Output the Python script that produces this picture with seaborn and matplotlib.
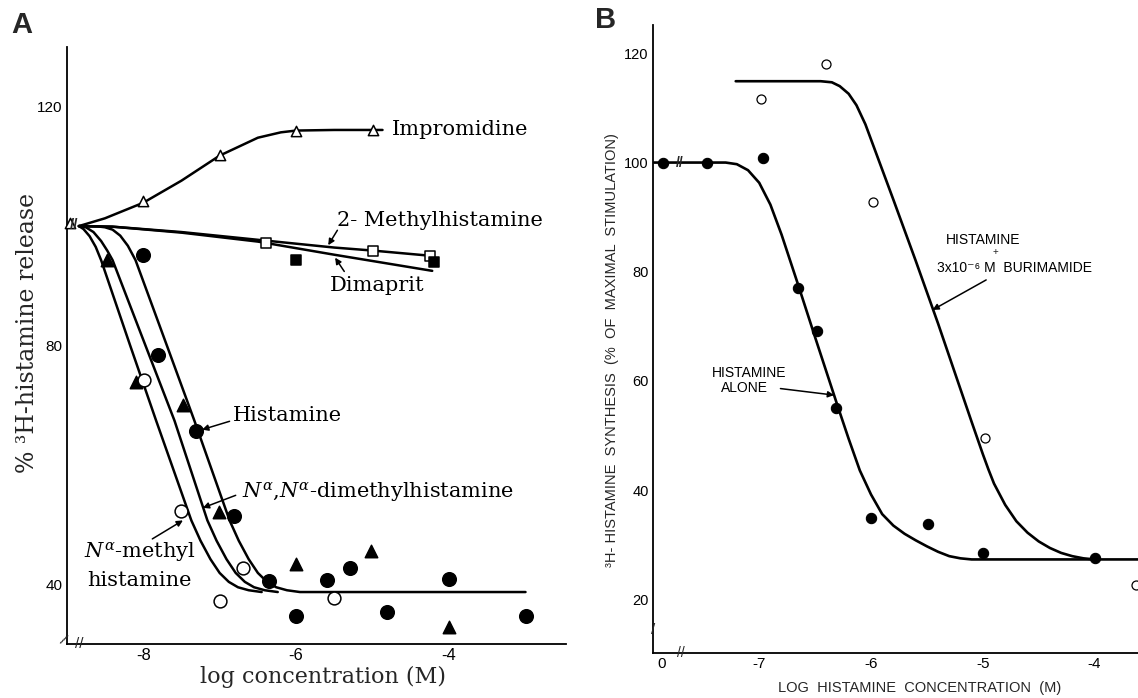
import matplotlib
matplotlib.use("Agg")
import matplotlib.pyplot as plt
import pandas as pd
import seaborn as sns

sns.set_theme(style="white")
plt.rcParams['font.family'] = ['DejaVu Serif']
plt.rcParams['mathtext.fontset'] = 'dejavuserif'

SANS = ['Liberation Sans', 'DejaVu Sans']
SERIF = ['DejaVu Serif', 'DejaVu Sans']

# ---------------- Panel A : measured points ----------------
a_impromidine_x = [-8.96, -8.0, -7.0, -6.0, -5.0]
a_impromidine_y = [100.5, 104.2, 111.9, 115.9, 116.1]
a_methyl2_x = [-6.4, -5.0, -4.25]
a_methyl2_y = [97.2, 95.9, 95.0]
a_dimaprit_x = [-6.0, -4.2]
a_dimaprit_y = [94.3, 94.0]
a_histamine_x = [-8.0, -7.8, -7.31, -6.81, -6.35, -6.0, -5.59, -5.29, -4.81, -4.0, -3.0]
a_histamine_y = [95.1, 78.4, 65.7, 51.5, 40.6, 34.7, 40.7, 42.8, 35.3, 40.8, 34.7]
a_dimethyl_x = [-8.47, -8.1, -7.48, -7.01, -6.0, -5.02, -4.0]
a_dimethyl_y = [94.3, 73.9, 70.0, 52.1, 43.4, 45.6, 32.9]
a_nmethyl_x = [-7.99, -7.51, -6.99, -6.69, -5.5]
a_nmethyl_y = [74.2, 52.3, 37.2, 42.8, 37.7]

# ---------------- Panel A : drawn curves ----------------
a_impro_curve_x = [-8.84, -8.5, -8.0, -7.5, -7.0, -6.5, -6.2, -6.0, -5.5, -5.0, -4.87]
a_impro_curve_y = [100.0, 101.3, 103.9, 107.6, 111.8, 114.8, 115.7, 116.0, 116.1, 116.1, 116.1]
a_methyl2_curve_x = [-8.84, -8.4, -7.5, -6.5, -5.5, -5.0, -4.22]
a_methyl2_curve_y = [100.0, 99.9, 99.0, 97.7, 96.4, 95.9, 95.0]
a_dimaprit_curve_x = [-8.84, -8.4, -7.5, -6.5, -5.5, -4.22]
a_dimaprit_curve_y = [100.0, 99.9, 98.9, 97.4, 95.2, 92.5]
a_curveL_x = [-8.84, -8.78, -8.70, -8.62, -8.55, -8.17, -7.83, -7.37, -7.25, -7.12,
              -7.0, -6.88, -6.76, -6.62, -6.45]
a_curveL_y = [100.0, 99.5, 98.3, 96.5, 94.3, 80.0, 67.4, 50.7, 47.3, 44.2,
              41.9, 40.4, 39.5, 39.0, 38.7]
a_curveM_x = [-8.84, -8.75, -8.65, -8.55, -8.47, -8.40, -7.97, -7.59, -7.16, -7.04,
              -6.91, -6.79, -6.67, -6.55, -6.41, -6.24]
a_curveM_y = [100.0, 99.8, 99.0, 97.5, 95.9, 94.3, 80.0, 67.4, 50.7, 47.3,
              44.2, 41.9, 40.4, 39.5, 39.0, 38.7]
a_curveR_x = [-8.84, -8.6, -8.5, -8.4, -8.3, -8.2, -8.10, -7.69, -7.33, -6.87, -6.75,
              -6.62, -6.5, -6.38, -6.26, -6.12, -5.95, -3.0]
a_curveR_y = [100.0, 99.95, 99.8, 99.4, 98.4, 96.7, 94.3, 80.0, 67.4, 50.7, 47.3,
              44.2, 41.9, 40.4, 39.5, 39.0, 38.7, 38.7]

a_yticks = [120, 100, 80, 60, 40]
a_yticklabels = ['120', '', '80', '', '40']
a_xticks = [-8, -7, -6, -5, -4, -3]
a_xticklabels = ['-8', '', '-6', '', '-4', '']

# ---------------- Panel B ----------------
b_alone_x = [-7.86, -7.47, -6.97, -6.65, -6.48, -6.31, -6.0, -5.49, -5.0, -4.0]
b_alone_y = [100.0, 100.0, 100.8, 77.0, 69.1, 55.0, 34.8, 33.8, 28.5, 27.5]
b_burim_x = [-6.98, -6.40, -5.98, -4.98, -3.63]
b_burim_y = [111.6, 118.0, 92.7, 49.6, 22.7]

b_alone_curve_x = [-7.94, -7.3, -7.2, -7.1, -7.0, -6.9, -6.8, -6.65, -6.5, -6.3, -6.2,
                   -6.1, -6.0, -5.9, -5.8, -5.7, -5.6, -5.5, -5.4, -5.3, -5.2, -5.1, -3.6]
b_alone_curve_y = [100.0, 100.0, 99.7, 98.6, 96.3, 92.3, 86.8, 77.5, 68.0, 55.5, 49.4,
                   43.6, 39.2, 35.6, 33.5, 32.0, 30.8, 29.7, 28.7, 27.9, 27.5, 27.3, 27.3]
b_burim_curve_x = [-7.21, -6.45, -6.35, -6.28, -6.2, -6.13, -6.05, -5.8, -5.6, -5.4,
                   -5.2, -5.1, -5.0, -4.95, -4.9, -4.8, -4.7, -4.6, -4.5, -4.4, -4.3,
                   -4.2, -4.1, -4.0]
b_burim_curve_y = [114.9, 114.9, 114.7, 114.0, 112.6, 110.5, 107.0, 93.2, 82.0, 70.5,
                   58.5, 52.5, 46.6, 43.8, 41.2, 37.3, 34.3, 32.2, 30.6, 29.4, 28.5,
                   27.9, 27.5, 27.3]

b_yticks = [120, 100, 80, 60, 40, 20]
b_yticklabels = ['120', '100', '80', '60', '40', '20']
b_xticks = [-7.87, -7, -6, -5, -4]
b_xticklabels = ['0', '-7', '-6', '-5', '-4']


def curve(ax, xs, ys, lw=1.8):
    df = pd.DataFrame({'x': xs, 'y': ys})
    sns.lineplot(data=df, x='x', y='y', ax=ax, sort=False, estimator=None,
                 color='black', lw=lw, zorder=2)


def pts(ax, xs, ys, marker, s, face, lw=1.1):
    df = pd.DataFrame({'x': xs, 'y': ys})
    sns.scatterplot(data=df, x='x', y='y', ax=ax, marker=marker, s=s,
                    color=face, edgecolor='black', linewidth=lw, zorder=3,
                    clip_on=False)


def arrow(ax, tip, tail, lw=1.1):
    ax.annotate('', xy=tip, xytext=tail,
                arrowprops=dict(arrowstyle='-|>', color='black', lw=lw,
                                mutation_scale=9, shrinkA=0, shrinkB=0))


fig = plt.figure(figsize=(11.38, 6.98), dpi=100)

# ================= Panel A =================
axA = fig.add_axes([0.0586, 0.0774, 0.4388, 0.8553])
curve(axA, a_impro_curve_x, a_impro_curve_y)
curve(axA, a_methyl2_curve_x, a_methyl2_curve_y)
curve(axA, a_dimaprit_curve_x, a_dimaprit_curve_y)
curve(axA, a_curveL_x, a_curveL_y)
curve(axA, a_curveM_x, a_curveM_y)
curve(axA, a_curveR_x, a_curveR_y)

pts(axA, a_impromidine_x, a_impromidine_y, '^', 55, 'white')
pts(axA, a_methyl2_x, a_methyl2_y, 's', 60, 'white')
pts(axA, a_dimaprit_x, a_dimaprit_y, 's', 50, 'black')
pts(axA, a_histamine_x, a_histamine_y, 'o', 95, 'black')
pts(axA, a_dimethyl_x, a_dimethyl_y, '^', 80, 'black')
pts(axA, a_nmethyl_x, a_nmethyl_y, 'o', 85, 'white')

axA.set_xlim(-9.0, -2.47)
axA.set_ylim(30, 130)
axA.set_xlabel('')
axA.set_ylabel('')
axA.set_yticks(a_yticks)
axA.set_yticklabels(a_yticklabels, family=SANS, fontsize=11)
axA.set_xticks(a_xticks)
axA.set_xticklabels(a_xticklabels, family=SANS, fontsize=12)
axA.tick_params(direction='in', length=6, width=1.1, pad=3, colors='black')
for sp in ['top', 'right']:
    axA.spines[sp].set_visible(False)
for sp in ['left', 'bottom']:
    axA.spines[sp].set_color('black')
    axA.spines[sp].set_linewidth(1.3)

tA = dict(family=SERIF, fontsize=15, color='black')
axA.text(-4.75, 116.1, 'Impromidine', ha='left', va='center', **tA)
axA.text(-5.47, 100.9, '2- Methylhistamine', ha='left', va='center', **tA)
arrow(axA, (-5.58, 96.8), (-5.46, 99.3))
axA.text(-5.56, 90.1, 'Dimaprit', ha='left', va='center', **tA)
arrow(axA, (-5.49, 94.7), (-5.37, 92.4))
axA.text(-6.83, 68.3, 'Histamine', ha='left', va='center', **tA)
arrow(axA, (-7.23, 65.9), (-6.87, 67.3))
axA.text(-6.71, 55.4, r'$N^{\alpha}$,$N^{\alpha}$-dimethylhistamine',
         ha='left', va='center', **tA)
arrow(axA, (-7.22, 52.8), (-6.79, 54.9))
axA.text(-8.05, 45.4, r'$N^{\alpha}$-methyl', ha='center', va='center', **tA)
axA.text(-8.05, 40.7, 'histamine', ha='center', va='center', **tA)
arrow(axA, (-7.48, 50.7), (-7.88, 47.6))

# break marks
axA.text(-8.9, 100.2, '//', ha='center', va='center', fontsize=11,
         family=SANS, fontweight='bold')
axA.text(-8.83, 30.0, '//', ha='center', va='center', fontsize=11,
         family=SANS, clip_on=False)
axA.text(-9.05, 30.6, '/', ha='center', va='center', fontsize=11,
         family=SANS, clip_on=False, rotation=-30)

fig.text(0.2838, 0.0300, 'log concentration (M)', ha='center', va='center',
         family=SERIF, fontsize=16)
fig.text(0.0246, 0.523, '% ³H-histamine release', ha='center', va='center',
         rotation=90, family=SERIF, fontsize=17)
fig.text(0.0193, 0.964, 'A', ha='center', va='center', family=SANS,
         fontsize=21, fontweight='bold')

# ================= Panel B =================
axB = fig.add_axes([0.5738, 0.0640, 0.4262, 0.9002])
curve(axB, b_alone_curve_x, b_alone_curve_y, lw=1.9)
curve(axB, b_burim_curve_x, b_burim_curve_y, lw=1.9)
pts(axB, b_alone_x, b_alone_y, 'o', 55, 'black', lw=0.8)
pts(axB, b_burim_x, b_burim_y, 'o', 42, 'white', lw=0.9)

axB.set_xlim(-7.95, -3.612)
axB.set_ylim(10.1, 125.2)
axB.set_xlabel('')
axB.set_ylabel('')
axB.set_yticks(b_yticks)
axB.set_yticklabels(b_yticklabels, family=SANS, fontsize=10.5)
axB.set_xticks(b_xticks)
axB.set_xticklabels(b_xticklabels, family=SANS, fontsize=11)
axB.tick_params(direction='in', length=6, width=1.1, pad=3, colors='black')
for sp in ['top', 'right']:
    axB.spines[sp].set_visible(False)
for sp in ['left', 'bottom']:
    axB.spines[sp].set_color('black')
    axB.spines[sp].set_linewidth(1.3)

tB = dict(family=SANS, fontsize=10, color='black')
axB.text(-5.33, 85.8, 'HISTAMINE', ha='left', va='center', **tB)
axB.text(-4.89, 83.6, '+', ha='center', va='center', family=SANS, fontsize=7)
axB.text(-5.41, 80.6, '3x10⁻⁶ M  BURIMAMIDE', ha='left', va='center', **tB)
arrow(axB, (-5.45, 73.0), (-4.97, 78.5))
axB.text(-7.09, 61.4, 'HISTAMINE', ha='center', va='center', **tB)
axB.text(-7.13, 58.7, 'ALONE', ha='center', va='center', **tB)
arrow(axB, (-6.33, 57.4), (-6.81, 58.6))

axB.text(-7.71, 100.0, '//', ha='center', va='center', fontsize=10,
         family=SANS, fontweight='bold')
axB.text(-7.70, 10.1, '//', ha='center', va='center', fontsize=10,
         family=SANS, clip_on=False)
axB.text(-7.95, 14.4, '/', ha='center', va='center', fontsize=11,
         family=SANS, clip_on=False)

fig.text(0.8085, 0.0143, 'LOG  HISTAMINE  CONCENTRATION  (M)', ha='center',
         va='center', family=SANS, fontsize=10.5)
fig.text(0.5375, 0.4986, '³H- HISTAMINE  SYNTHESIS  (%  OF  MAXIMAL  STIMULATION)',
         ha='center', va='center', rotation=90, family=SANS, fontsize=10.5)
fig.text(0.5325, 0.972, 'B', ha='center', va='center', family=SANS,
         fontsize=21, fontweight='bold')

fig.savefig('out.png', dpi=100, facecolor='white')
